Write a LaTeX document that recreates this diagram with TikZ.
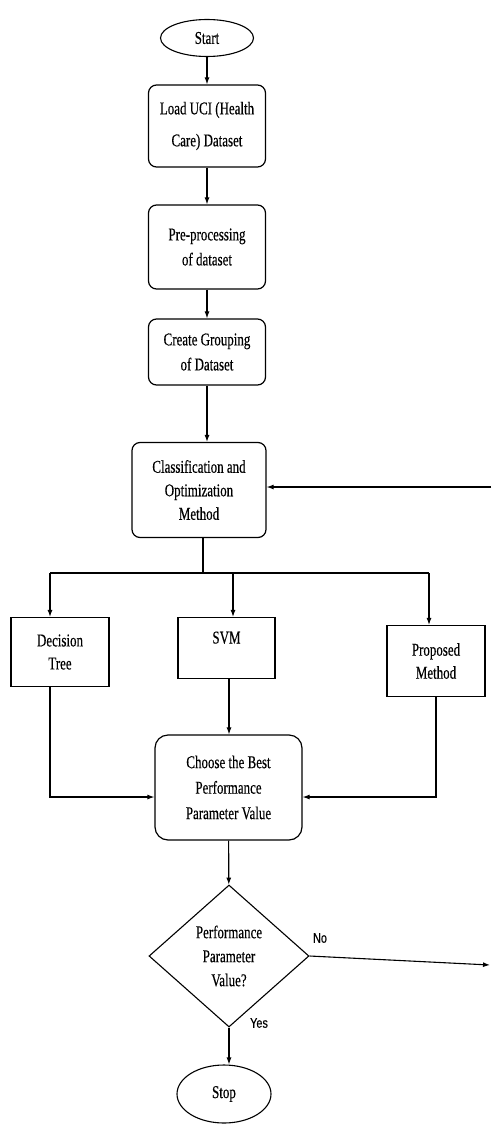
\documentclass[tikz,border=0pt]{standalone}
\usepackage{fontspec}
\setmainfont{Liberation Serif}[FakeStretch=0.72,FakeBold=0.4]
\newfontfamily\lblfont{Liberation Sans}[FakeStretch=0.78,FakeBold=0.3]
\usetikzlibrary{shapes.geometric,arrows.meta}
\begin{document}
\begin{tikzpicture}[x=1pt,y=-1pt,
  box/.style={draw, line width=1.2pt, rounded corners=8pt, align=center, inner sep=0pt, font=\fontsize{18}{25}\selectfont},
  rect/.style={draw, line width=1.2pt, inner sep=0pt, font=\fontsize{18}{23}\selectfont},
  term/.style={draw, ellipse, line width=1.1pt, inner sep=0pt, font=\fontsize{18}{20}\selectfont},
  dec/.style={draw, diamond, aspect=1.13, line width=1.1pt, inner sep=0pt, align=center, font=\fontsize{18}{24}\selectfont},
  conn/.style={line width=1.1pt},
  arr/.style={line width=1.1pt, -{Latex[length=7pt,width=5pt]}},
  lab/.style={font=\lblfont\fontsize{14}{15}\selectfont}
]
\useasboundingbox (0,0) rectangle (491,1126);
\node[term, minimum width=93pt, minimum height=37pt] (start) at (207,38) {Start};
\node[box, minimum width=117pt, minimum height=82pt, font=\fontsize{18}{32}\selectfont] (load) at (207,126) {Load UCI (Health\\Care) Dataset};
\node[box, minimum width=117pt, minimum height=84pt] (pre) at (207,247) {Pre-processing\\of dataset};
\node[box, minimum width=117pt, minimum height=66pt] (grp) at (207,352) {Create Grouping\\of Dataset};
\node[box, minimum width=134pt, minimum height=95pt, font=\fontsize{18}{23.5}\selectfont] (cls) at (199,490) {Classification and\\Optimization\\Method};
\node[rect, align=center, minimum width=98pt, minimum height=69pt] (dt) at (60,652) {Decision\\Tree};
\node[rect, minimum width=97pt, minimum height=61pt, text height=12pt, text depth=21pt] (svm) at (226.5,648) {SVM};
\node[rect, align=center, minimum width=98pt, minimum height=71pt] (pm) at (436,661) {Proposed\\Method};
\node[box, rounded corners=13pt, minimum width=147pt, minimum height=105pt, font=\fontsize{18}{25.5}\selectfont] (best) at (228.5,787.5) {Choose the Best\\Performance\\Parameter Value};
\node[dec, minimum width=160pt, minimum height=142pt] (perf) at (229,956) {Performance\\Parameter\\Value?};
\node[term, minimum width=94pt, minimum height=58pt] (stop) at (224,1094) {Stop};

\draw[arr] (start) -- (load);
\draw[arr] (load) -- (pre);
\draw[arr] (pre) -- (grp);
\draw[arr] (grp.south) -- (grp.south |- cls.north);
\coordinate (ret) at (491,487);
\draw[arr] (ret) -- (ret -| cls.east);
\coordinate (br) at (203,573);
\draw[conn] (br |- cls.south) -- (br);
\coordinate (bl) at (50,573);
\coordinate (brr) at (429,573);
\draw[conn] (bl) -- (brr);
\draw[arr] (bl) -- (bl |- dt.north);
\coordinate (bs) at (233,573);
\draw[arr] (bs) -- (bs |- svm.north);
\draw[arr] (brr) -- (brr |- pm.north);
\coordinate (dtx) at (50,797);
\draw[arr] (dtx |- dt.south) -- (dtx) -- (dtx -| best.west);
\coordinate (svx) at (229,700);
\draw[arr] (svx |- svm.south) -- (svx |- best.north);
\coordinate (pmx) at (436,797);
\draw[arr] (pm.south) -- (pmx) -- (pmx -| best.east);
\draw[arr] (best) -- (perf);
\coordinate (noend) at (490,965);
\draw[arr] (perf.east) -- (noend);
\draw[arr] (perf.south) -- (perf.south |- stop.north);
\node[lab] (no) at (320,938) {No};
\node[lab] (yes) at (259,1023) {Yes};
\end{tikzpicture}
\end{document}
